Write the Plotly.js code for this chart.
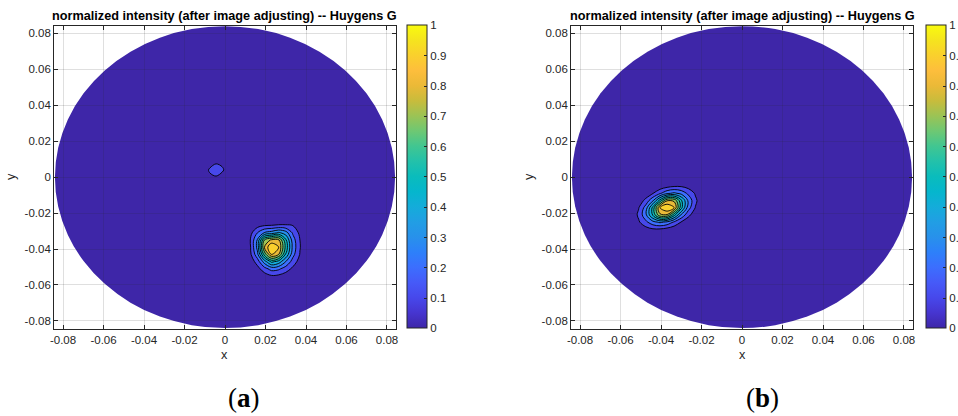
<!DOCTYPE html>
<html>
<head>
<meta charset="utf-8">
<script src="https://cdn.plot.ly/plotly-3.0.1.min.js"></script>
<style>html,body{margin:0;padding:0;background:#fff;}#chart{width:958px;height:416px;}</style>
</head>
<body>
<div id="chart"></div>
<script>
// ---------------- data ----------------
const apertureRadius = 0.084;
const chartTitle = 'normalized intensity (after image adjusting) -- Huygens G';
const panelLabels = ['a', 'b'];
const tickVals = [-0.08, -0.06, -0.04, -0.02, 0, 0.02, 0.04, 0.06, 0.08];
const tickText = ['-0.08', '-0.06', '-0.04', '-0.02', '0', '0.02', '0.04', '0.06', '0.08'];
const levelStart = 0.1, levelEnd = 0.9, levelStep = 0.1;

// panel (a): main spot
const spotA_x = [0.009, 0.0125, 0.016, 0.0195, 0.023, 0.0265, 0.030, 0.0335, 0.037, 0.0405];
const spotA_y = [-0.059, -0.055, -0.051, -0.047, -0.043, -0.039, -0.035, -0.031, -0.027, -0.023];
const spotA_z = [
  [0, 0, 0, 0, 0, 0, 0, 0, 0, 0],
  [0, 0, 0, 0.05, 0.088, 0.078, 0.05, 0, 0, 0],
  [0, 0, 0.063, 0.16, 0.24, 0.22, 0.15, 0.078, 0.025, 0],
  [0, 0.037, 0.145, 0.35, 0.53, 0.46, 0.3, 0.155, 0.058, 0],
  [0, 0.078, 0.27, 0.64, 0.9, 0.8, 0.49, 0.235, 0.095, 0.025],
  [0, 0.09, 0.33, 0.81, 1.0, 0.9, 0.57, 0.27, 0.105, 0.025],
  [0, 0.1, 0.31, 0.71, 0.82, 0.82, 0.52, 0.25, 0.1, 0.027],
  [0, 0.065, 0.2, 0.31, 0.35, 0.42, 0.35, 0.185, 0.075, 0],
  [0, 0.025, 0.065, 0.1, 0.105, 0.115, 0.115, 0.1, 0.04, 0],
  [0, 0, 0, 0, 0, 0, 0, 0, 0, 0]
];
// panel (a): small side lobe
const lobeA_x = [-0.0134, -0.0104, -0.0074, -0.0044, -0.0014, 0.0016, 0.0046];
const lobeA_y = [-0.0065, -0.003, 0.0005, 0.004, 0.0075, 0.011, 0.0145];
const lobeA_z = [
  [0, 0, 0, 0, 0, 0, 0],
  [0, 0, 0, 0, 0, 0, 0],
  [0, 0, 0.08, 0.098, 0.06, 0, 0],
  [0, 0.04, 0.12, 0.17, 0.12, 0.04, 0],
  [0, 0, 0.06, 0.098, 0.08, 0, 0],
  [0, 0, 0, 0, 0, 0, 0],
  [0, 0, 0, 0, 0, 0, 0]
];
// panel (b): spot
const spotB_x = [-0.0545, -0.051, -0.0475, -0.044, -0.0405, -0.037, -0.0335, -0.030, -0.0265, -0.023, -0.0195];
const spotB_y = [-0.033, -0.029, -0.025, -0.021, -0.017, -0.013, -0.009, -0.005, -0.001];
const spotB_z = [
  [0, 0, 0, 0, 0, 0, 0, 0, 0, 0, 0],
  [0, 0.03, 0.06, 0.087, 0.088, 0.063, 0.033, 0, 0, 0, 0],
  [0.025, 0.087, 0.175, 0.27, 0.32, 0.28, 0.185, 0.095, 0.03, 0, 0],
  [0.03, 0.12, 0.28, 0.52, 0.78, 0.79, 0.54, 0.285, 0.13, 0.035, 0],
  [0, 0.095, 0.245, 0.535, 0.9, 1.0, 0.9, 0.535, 0.245, 0.095, 0],
  [0, 0.035, 0.13, 0.285, 0.54, 0.79, 0.78, 0.52, 0.28, 0.12, 0.03],
  [0, 0, 0.03, 0.095, 0.185, 0.28, 0.32, 0.27, 0.175, 0.087, 0.025],
  [0, 0, 0, 0, 0.033, 0.063, 0.088, 0.087, 0.06, 0.03, 0],
  [0, 0, 0, 0, 0, 0, 0, 0, 0, 0, 0]
];

// ---------------- styling ----------------
const parulaStops = [
  [0.00, [62, 38, 168]], [0.05, [70, 53, 208]], [0.10, [71, 72, 235]], [0.15, [70, 90, 248]],
  [0.20, [60, 110, 254]], [0.25, [45, 128, 250]], [0.30, [40, 145, 235]], [0.35, [33, 158, 228]],
  [0.40, [20, 172, 218]], [0.45, [5, 182, 205]], [0.50, [10, 188, 188]], [0.55, [35, 193, 170]],
  [0.60, [65, 198, 145]], [0.65, [110, 200, 115]], [0.70, [155, 195, 85]], [0.75, [200, 188, 60]],
  [0.80, [235, 185, 55]], [0.85, [253, 190, 60]], [0.90, [250, 208, 45]], [0.95, [245, 228, 30]],
  [1.00, [249, 251, 14]]
];
function parulaAt(z) {
  z = Math.max(0, Math.min(1, z));
  for (let i = 1; i < parulaStops.length; i++) {
    const [s1, c1] = parulaStops[i];
    const [s0, c0] = parulaStops[i - 1];
    if (z <= s1) {
      const t = (z - s0) / (s1 - s0);
      return c0.map((v, k) => Math.round(v + (c1[k] - v) * t));
    }
  }
  return parulaStops[parulaStops.length - 1][1];
}
const rgb = c => `rgb(${c[0]},${c[1]},${c[2]})`;
const barScale = parulaStops.map(([s, c]) => [s, rgb(c)]);
// each filled band takes the colour of its lower contour level; background transparent
const nLev = Math.round((levelEnd - levelStart) / levelStep) + 1;
const zLo = levelStart - levelStep / 2, zHi = levelStart + (nLev - 0.5) * levelStep;
const fillScale = [[0, 'rgba(62,38,168,0)'], [0.001, rgb(parulaAt(zLo - levelStep / 2))]];
for (let i = 1; i <= 40; i++) {
  const s = i / 40;
  fillScale.push([s, rgb(parulaAt(zLo + (zHi - zLo) * s - levelStep / 2))]);
}

const FONT = 'Liberation Sans, Arial, Helvetica, sans-serif';
const TXT = '#262626';
const W = 958, H = 416;
const xDomA = [54.1 / W, 395.9 / W], xDomB = [571.1 / W, 912.9 / W];
const yDom = [1 - 328.8 / H, 1 - 25.5 / H];
const range = [-0.0844, 0.0844];

function axis(domain, anchor) {
  return {
    domain, anchor, range, tickvals: tickVals, ticktext: tickText,
    ticks: 'inside', ticklen: 4, tickwidth: 1, tickcolor: TXT,
    showline: true, linecolor: TXT, linewidth: 1, mirror: 'ticks',
    showgrid: true, gridcolor: 'rgba(38,38,38,0.15)', gridwidth: 1, zeroline: false,
    tickfont: { family: FONT, size: 11.5, color: TXT }, fixedrange: true, automargin: false
  };
}
function contour(x, y, z, xa, ya) {
  return {
    type: 'contour', x, y, z, xaxis: xa, yaxis: ya, autocontour: false,
    contours: { start: levelStart, end: levelEnd, size: levelStep, coloring: 'fill', showlines: true },
    line: { color: '#000', width: 0.9, smoothing: 1 },
    colorscale: fillScale, showscale: false, hoverinfo: 'skip'
  };
}
function colorbarTrace(xa, ya, xPx) {
  return {
    type: 'heatmap', x: [1, 2], y: [1, 2], z: [[0, 1], [0, 1]], zmin: 0, zmax: 1,
    xaxis: xa, yaxis: ya, colorscale: barScale, showscale: true, hoverinfo: 'skip',
    colorbar: {
      x: xPx / W, xanchor: 'left', y: 1 - 176.9 / H, yanchor: 'middle',
      len: 303, lenmode: 'pixels', thickness: 20, thicknessmode: 'pixels',
      xpad: 0, ypad: 0, outlinewidth: 1, outlinecolor: TXT, borderwidth: 0,
      ticks: 'inside', ticklen: 3, tickwidth: 1, tickcolor: TXT, tick0: 0, dtick: 0.1,
      tickfont: { family: FONT, size: 11.5, color: TXT }
    }
  };
}

const data = [
  colorbarTrace('x', 'y', 407),
  colorbarTrace('x2', 'y2', 926),
  contour(spotA_x, spotA_y, spotA_z, 'x', 'y'),
  contour(lobeA_x, lobeA_y, lobeA_z, 'x', 'y'),
  contour(spotB_x, spotB_y, spotB_z, 'x2', 'y2')
];

function disc(xr, yr) {
  return { type: 'circle', xref: xr, yref: yr, x0: -apertureRadius, x1: apertureRadius,
    y0: -apertureRadius, y1: apertureRadius, fillcolor: rgb(parulaStops[0][1]),
    line: { width: 0 }, layer: 'below' };
}
const cxA = (xDomA[0] + xDomA[1]) / 2, cxB = (xDomB[0] + xDomB[1]) / 2;
const annotations = [];
[[cxA, 0], [cxB, 1]].forEach(([cx, i]) => {
  annotations.push({ text: '<b>' + chartTitle + '</b>', xref: 'paper', yref: 'paper', x: cx, y: 1 - 16 / H,
    xanchor: 'center', yanchor: 'middle', showarrow: false, font: { family: FONT, size: 12.7, color: '#000' } });
  annotations.push({ text: 'x', xref: 'paper', yref: 'paper', x: cx, y: 1 - 355 / H,
    xanchor: 'center', yanchor: 'middle', showarrow: false, font: { family: FONT, size: 12.7, color: TXT } });
  annotations.push({ text: '(<b>' + panelLabels[i] + '</b>)', xref: 'paper', yref: 'paper',
    x: (i === 0 ? 244 : 762) / W, y: 1 - 398 / H, xanchor: 'center', yanchor: 'middle', showarrow: false,
    font: { family: 'Liberation Serif, Times New Roman, serif', size: 27, color: '#000' } });
});
[11, 529].forEach(px => {
  annotations.push({ text: 'y', textangle: -90, xref: 'paper', yref: 'paper', x: px / W, y: 1 - 177 / H,
    xanchor: 'center', yanchor: 'middle', showarrow: false, font: { family: FONT, size: 12.7, color: TXT } });
});

const layout = {
  width: W, height: H, margin: { l: 0, r: 0, t: 0, b: 0, autoexpand: false },
  paper_bgcolor: '#fff', plot_bgcolor: '#fff', showlegend: false,
  font: { family: FONT, color: TXT },
  xaxis: axis(xDomA, 'y'), yaxis: axis(yDom, 'x'),
  xaxis2: axis(xDomB, 'y2'), yaxis2: axis(yDom, 'x2'),
  shapes: [disc('x', 'y'), disc('x2', 'y2')],
  annotations
};
Plotly.newPlot('chart', data, layout, { staticPlot: true, displayModeBar: false });
</script>
</body>
</html>
